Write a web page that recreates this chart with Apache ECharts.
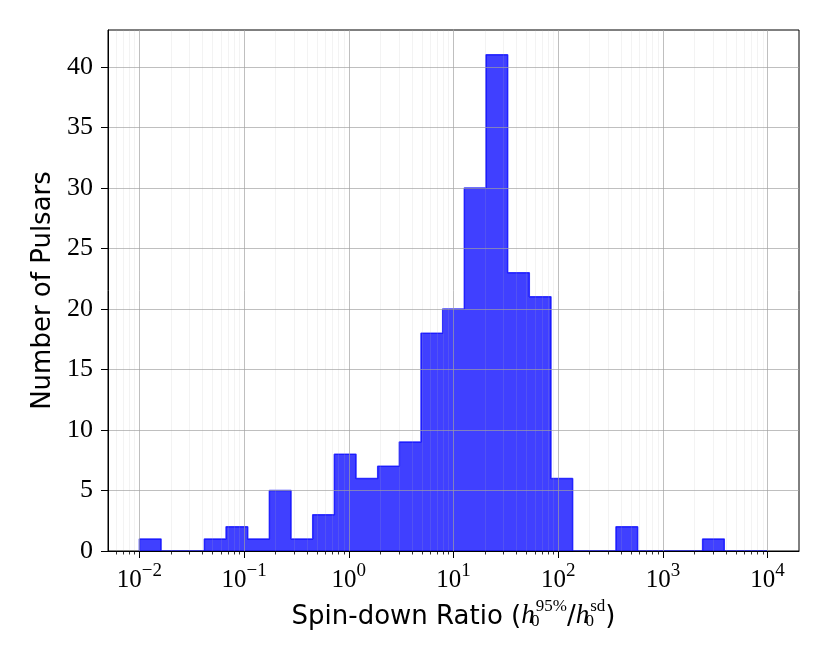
<!DOCTYPE html>
<html><head><meta charset="utf-8">
<script src="https://cdn.jsdelivr.net/npm/echarts@6/dist/echarts.min.js"></script>
<style>html,body{margin:0;padding:0;background:#fff}#c{width:830px;height:664px}</style>
</head><body><div id="c"></div>
<script>
// Histogram bins (log10 edges) and counts per bin
const binLogMin = -2;
const binLogMax = 4;
const counts = [1,0,0,1,2,1,5,1,3,8,6,7,9,18,20,30,41,23,21,6,0,0,2,0,0,0,1,0,0];
// Axis ticks
const xMajorExps = [-2,-1,0,1,2,3,4];
const yTicks = [0,5,10,15,20,25,30,35,40];
const xLimits = [-2.3, 4.3];
const yLimits = [0, 43.05];

const nBins = counts.length;
const binStep = (binLogMax - binLogMin) / nBins;
const edges = counts.map((_, i) => binLogMin + i * binStep).concat([binLogMax]);
const stepData = [[edges[0], 0]];
counts.forEach((c, i) => stepData.push([edges[i], c]));
stepData.push([edges[nBins], counts[nBins - 1]]);
stepData.push([edges[nBins], 0]);

const minorTicks = [];
for (let n = -3; n <= 4; n++) {
  for (let k = 2; k <= 9; k++) {
    const v = n + Math.log10(k);
    if (v >= xLimits[0] && v <= xLimits[1]) minorTicks.push(v);
  }
}

const SERIF = '"Liberation Serif", "DejaVu Serif", serif';
const SANS = '"DejaVu Sans", sans-serif';
const MAJOR_GRID = 'rgba(160,160,160,0.75)';
const MINOR_GRID = 'rgba(176,176,176,0.2)';

const chart = echarts.init(document.getElementById('c'), null, {renderer: 'canvas'});
chart.setOption({
  animation: false,
  backgroundColor: '#fff',
  grid: {left: 108, right: 31, top: 30, bottom: 113, show: true, borderColor: '#000', borderWidth: 1, backgroundColor: 'transparent'},
  xAxis: [{
    type: 'value', min: xLimits[0], max: xLimits[1], position: 'bottom', z: 4,
    axisLine: {show: true, onZero: false, lineStyle: {color: '#000', width: 1}},
    axisTick: {show: true, inside: false, length: 7, customValues: xMajorExps, lineStyle: {color: '#000', width: 1}},
    axisLabel: {
      show: true, margin: 11, customValues: xMajorExps,
      formatter: v => '{b|10}{s|' + String(Math.round(v)).replace('-', '\u2212') + '}',
      rich: {
        b: {fontFamily: SERIF, fontSize: 25, color: '#000', lineHeight: 31, verticalAlign: 'bottom'},
        s: {fontFamily: SERIF, fontSize: 19, color: '#000', lineHeight: 19, verticalAlign: 'top'}
      }
    },
    splitLine: {show: true, lineStyle: {color: MAJOR_GRID, width: 0.9}},
    name: '{t|Spin-down Ratio (}{h|h}{sb|0}{sp|95%}{t|/}{h|h}{sb|0}{sp|sd}{t|)}',
    nameLocation: 'middle', nameGap: 46,
    nameTextStyle: {
      rich: {
        t: {fontFamily: SANS, fontSize: 26, color: '#000', lineHeight: 32, verticalAlign: 'bottom'},
        h: {fontFamily: SERIF, fontStyle: 'italic', fontSize: 27, color: '#000', lineHeight: 32, verticalAlign: 'bottom'},
        sb: {fontFamily: SERIF, fontSize: 17, color: '#000', lineHeight: 17, verticalAlign: 'bottom', width: 1},
        sp: {fontFamily: SERIF, fontSize: 17, color: '#000', lineHeight: 17, verticalAlign: 'top'}
      }
    }
  }, {
    type: 'value', min: xLimits[0], max: xLimits[1], position: 'bottom', z: 3,
    axisLine: {show: false, onZero: false},
    axisTick: {show: true, inside: false, length: 3.5, customValues: minorTicks, lineStyle: {color: '#000', width: 0.8}},
    axisLabel: {show: false},
    splitLine: {show: true, lineStyle: {color: MINOR_GRID, width: 0.8}}
  }],
  yAxis: {
    type: 'value', min: yLimits[0], max: yLimits[1], z: 4, position: 'left',
    axisLine: {show: true, onZero: false, lineStyle: {color: '#000', width: 1}},
    axisTick: {show: true, inside: false, length: 7, customValues: yTicks, lineStyle: {color: '#000', width: 1}},
    axisLabel: {show: true, margin: 15, customValues: yTicks, fontFamily: SERIF, fontSize: 26, color: '#000'},
    splitLine: {show: true, lineStyle: {color: MAJOR_GRID, width: 0.9}},
    name: 'Number of Pulsars', nameLocation: 'middle', nameGap: 52,
    nameTextStyle: {fontFamily: SANS, fontSize: 26, color: '#000'}
  },
  series: [{
    type: 'line', xAxisIndex: 0, yAxisIndex: 0, step: 'end', symbol: 'none', z: 2,
    data: stepData,
    lineStyle: {color: 'rgba(0,0,255,0.75)', width: 1.5},
    areaStyle: {color: 'rgba(0,0,255,0.75)', opacity: 1, origin: 'start'},
    silent: true
  }]
});
</script></body></html>
